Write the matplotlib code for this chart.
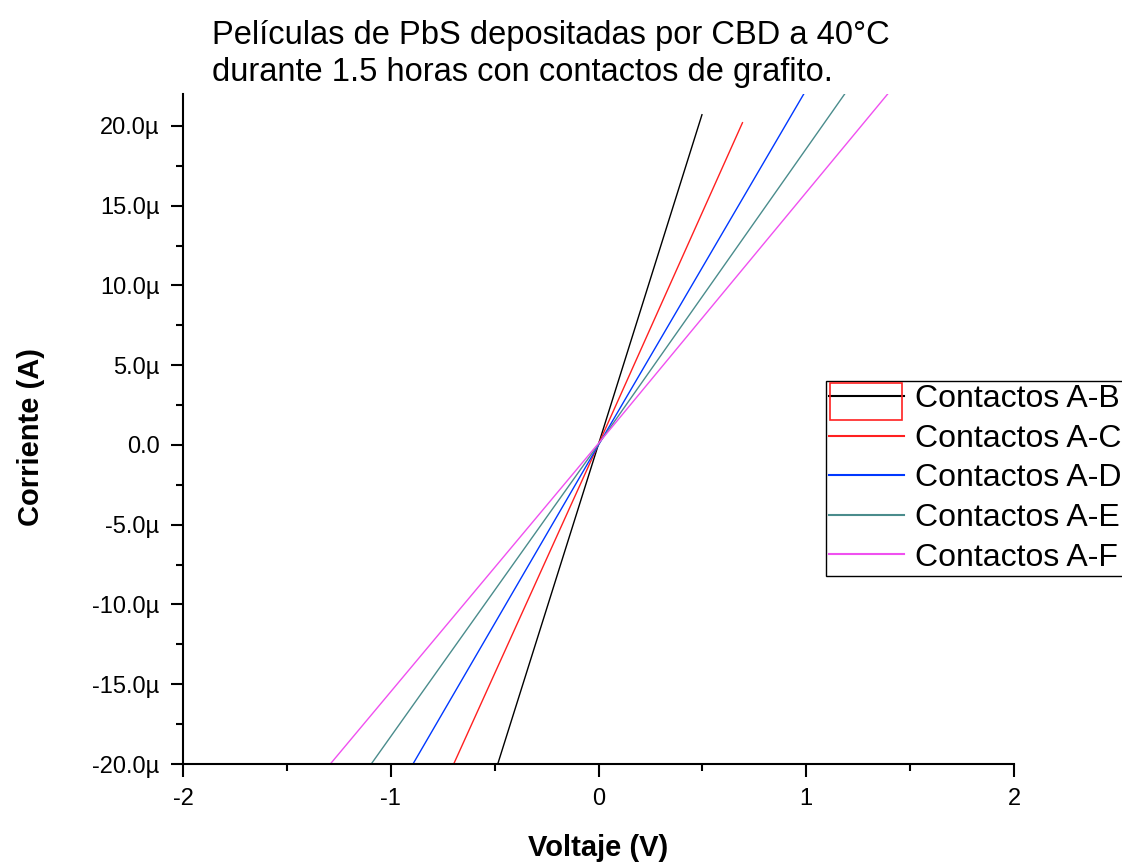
import matplotlib
matplotlib.use("Agg")
import matplotlib.pyplot as plt
from matplotlib.patches import Rectangle
from matplotlib.ticker import MultipleLocator, FixedLocator

# I-V curves (V in volts, I in amps)
labels = ["Contactos A-B", "Contactos A-C", "Contactos A-D", "Contactos A-E", "Contactos A-F"]
colors = ["#000000", "#ff2020", "#0038ff", "#4a8c8c", "#f050f0"]

v_ab = [-0.485, 0.0, 0.498]
i_ab = [-20.0e-6, 0.05e-6, 20.7e-6]
v_ac = [-0.697, 0.0, 0.693]
i_ac = [-20.0e-6, 0.05e-6, 20.2e-6]
v_ad = [-0.893, 0.0, 0.988]
i_ad = [-20.0e-6, 0.0, 22.0e-6]
v_ae = [-1.094, 0.0, 1.185]
i_ae = [-20.0e-6, 0.05e-6, 22.0e-6]
v_af = [-1.291, 0.0, 1.392]
i_af = [-20.0e-6, 0.1e-6, 22.0e-6]

x_ticks = [-2, -1, 0, 1, 2]
x_ticklabels = ["-2", "-1", "0", "1", "2"]
y_ticks = [-20e-6, -15e-6, -10e-6, -5e-6, 0, 5e-6, 10e-6, 15e-6, 20e-6]
y_ticklabels = ["-20.0\u00b5", "-15.0\u00b5", "-10.0\u00b5", "-5.0\u00b5", "0.0",
                "5.0\u00b5", "10.0\u00b5", "15.0\u00b5", "20.0\u00b5"]

plt.rcParams["font.family"] = ["Liberation Sans", "DejaVu Sans"]
plt.rcParams["axes.unicode_minus"] = False

fig = plt.figure(figsize=(11.22, 8.63), dpi=100)
ax = fig.add_axes([183 / 1122, 1 - 764 / 863, (1014 - 183) / 1122, (764 - 94) / 863])

series = [(v_ab, i_ab), (v_ac, i_ac), (v_ad, i_ad), (v_ae, i_ae), (v_af, i_af)]
for (v, i), lab, col in zip(series, labels, colors):
    ax.plot(v, i, color=col, lw=1.0, label=lab)

ax.set_xlim(-2, 2)
ax.set_ylim(-20e-6, 22e-6)

for s in ["top", "right"]:
    ax.spines[s].set_visible(False)
for s in ["left", "bottom"]:
    ax.spines[s].set_linewidth(1.5)

ax.xaxis.set_major_locator(FixedLocator(x_ticks))
ax.set_xticklabels(x_ticklabels)
ax.xaxis.set_minor_locator(MultipleLocator(0.5))
ax.yaxis.set_major_locator(FixedLocator(y_ticks))
ax.set_yticklabels(y_ticklabels)
ax.yaxis.set_minor_locator(MultipleLocator(2.5e-6))
ax.tick_params(which="major", direction="out", length=9, width=1.5, labelsize=17, pad=8)
ax.tick_params(which="minor", direction="out", length=5, width=1.5)

ax.set_xlabel("Voltaje (V)", fontsize=21, fontweight="bold", va="center")
ax.set_ylabel("Corriente (A)", fontsize=21, fontweight="bold", va="center")
ax.xaxis.set_label_coords(0.5, -(848 - 764) / 670)
ax.yaxis.set_label_coords(-(183 - 31) / 831, (764 - 437) / 670)

fig.text(212 / 1122, 1 - 20 / 863,
         "Pel\u00edculas de PbS depositadas por CBD a 40\u00b0C\ndurante 1.5 horas con contactos de grafito.",
         ha="left", va="top", fontsize=23.5, linespacing=1.27)

leg = ax.legend(loc="upper left", bbox_to_anchor=(826 / 1122, 1 - 381 / 863),
                bbox_transform=fig.transFigure, borderaxespad=0, fontsize=23,
                frameon=True, fancybox=False, edgecolor="black", framealpha=1,
                handlelength=2.35, handletextpad=0.35, labelspacing=0.3, borderpad=0.1)
leg.get_frame().set_linewidth(1.0)
for line in leg.get_lines():
    line.set_linewidth(1.5)

# selection box around the first legend handle
fig.patches.append(Rectangle((830 / 1122, 1 - 420 / 863), 72 / 1122, 37 / 863,
                             transform=fig.transFigure, fill=False, edgecolor="#ff2020", lw=1.2))

fig.savefig("out.png", dpi=100)
